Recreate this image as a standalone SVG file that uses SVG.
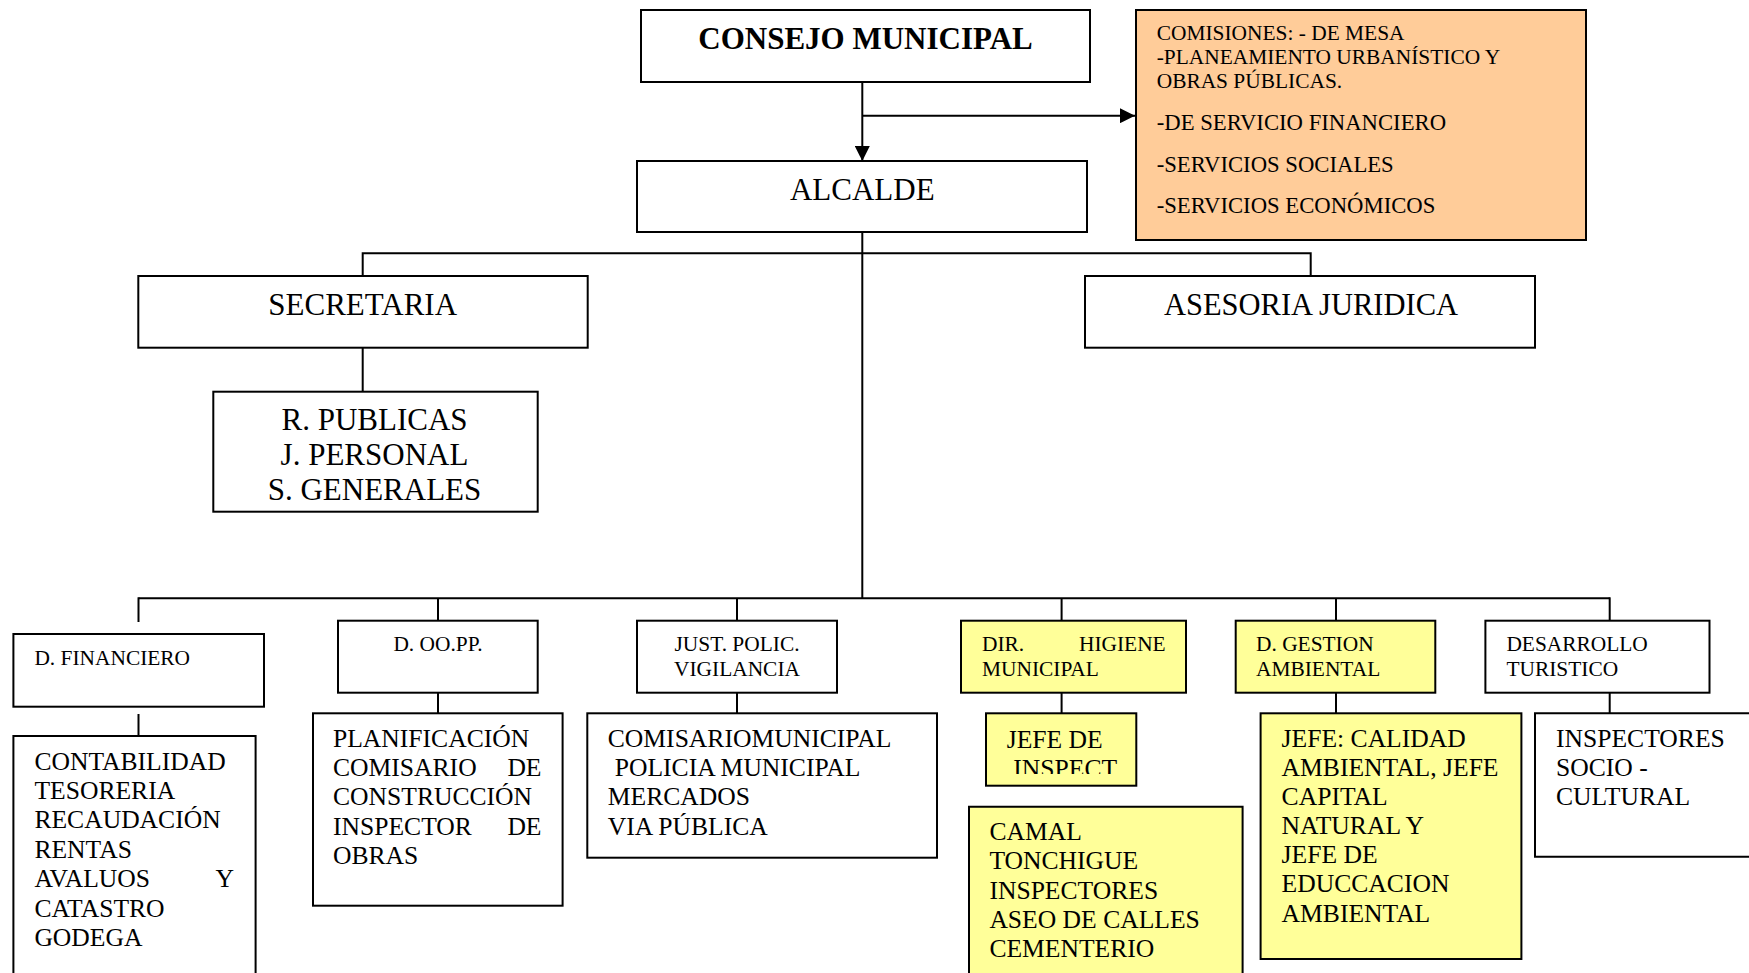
<svg xmlns="http://www.w3.org/2000/svg" width="1749" height="973" viewBox="0 0 1749 973">
<style>
  .box { fill: #FFFFFF; stroke: #000000; stroke-width: 2; }
  .yel { fill: #FFFF99; stroke: #000000; stroke-width: 2; }
  .peach { fill: #FFCC99; stroke: #000000; stroke-width: 2; }
  .ln { fill: none; stroke: #000000; stroke-width: 2; }
  text { font-family: "Liberation Serif", "Times New Roman", serif; fill: #000000; }
  .t30 { font-size: 31px; }
  .t25 { font-size: 25.6px; }
  .t21 { font-size: 21.4px; }
  .t22 { font-size: 22.7px; }
  .mid { text-anchor: middle; }
  .end { text-anchor: end; }
</style>
<defs>
  <marker id="arr" markerUnits="userSpaceOnUse" markerWidth="15" markerHeight="15" refX="15" refY="7.5" orient="auto">
    <path d="M0,0 L15,7.5 L0,15 Z" fill="#000000"/>
  </marker>
  <clipPath id="clipInspect">
    <rect x="986" y="713" width="150" height="61"/>
  </clipPath>
</defs>
<rect x="0" y="0" width="1749" height="973" fill="#FFFFFF"/>

<g id="connectors">
  <line class="ln" x1="862.3" y1="82" x2="862.3" y2="161" marker-end="url(#arr)"/>
  <line class="ln" x1="862.3" y1="115.7" x2="1135" y2="115.7" marker-end="url(#arr)"/>
  <line class="ln" x1="862.3" y1="232" x2="862.3" y2="598.3"/>
  <polyline class="ln" points="362.7,276 362.7,253.3 1310.7,253.3 1310.7,276"/>
  <line class="ln" x1="362.7" y1="347.7" x2="362.7" y2="391.7"/>
  <line class="ln" x1="138.5" y1="598.3" x2="1609.7" y2="598.3"/>
  <line class="ln" x1="138.5" y1="597.3" x2="138.5" y2="622"/>
  <line class="ln" x1="138.5" y1="714" x2="138.5" y2="736"/>
  <line class="ln" x1="438" y1="598.3" x2="438" y2="620.7"/>
  <line class="ln" x1="438" y1="692.7" x2="438" y2="713.3"/>
  <line class="ln" x1="737" y1="598.3" x2="737" y2="620.7"/>
  <line class="ln" x1="737" y1="692.7" x2="737" y2="713.3"/>
  <line class="ln" x1="1061.6" y1="598.3" x2="1061.6" y2="620.7"/>
  <line class="ln" x1="1061.6" y1="692.7" x2="1061.6" y2="713.3"/>
  <line class="ln" x1="1336" y1="598.3" x2="1336" y2="620.7"/>
  <line class="ln" x1="1336" y1="692.7" x2="1336" y2="713.3"/>
  <line class="ln" x1="1609.7" y1="597.3" x2="1609.7" y2="620.7"/>
  <line class="ln" x1="1609.7" y1="692.7" x2="1609.7" y2="713.3"/>
</g>

<g id="consejo">
  <rect class="box" x="641" y="10" width="449" height="72"/>
  <text class="t30 mid" x="865.5" y="48.5" font-weight="bold">CONSEJO MUNICIPAL</text>
</g>

<g id="comisiones">
  <rect class="peach" x="1136" y="10" width="450" height="230"/>
  <text class="t21" x="1156.7" y="40">COMISIONES: - DE MESA</text>
  <text class="t21" x="1156.7" y="63.5">-PLANEAMIENTO URBANÍSTICO Y</text>
  <text class="t21" x="1156.7" y="88">OBRAS PÚBLICAS.</text>
  <text class="t22" x="1156.7" y="130">-DE SERVICIO FINANCIERO</text>
  <text class="t22" x="1156.7" y="171.7">-SERVICIOS SOCIALES</text>
  <text class="t22" x="1156.7" y="213.3">-SERVICIOS ECONÓMICOS</text>
</g>

<g id="alcalde">
  <rect class="box" x="637" y="161" width="450" height="71"/>
  <text class="t30 mid" x="862.3" y="200">ALCALDE</text>
</g>

<g id="secretaria">
  <rect class="box" x="138.3" y="276" width="449.4" height="71.7"/>
  <text class="t30 mid" x="362.7" y="315">SECRETARIA</text>
</g>

<g id="asesoria">
  <rect class="box" x="1085" y="276" width="450" height="71.7"/>
  <text class="mid" x="1311" y="315" font-size="30.5px">ASESORIA JURIDICA</text>
</g>

<g id="rpublicas">
  <rect class="box" x="213.3" y="391.7" width="324.4" height="120"/>
  <text class="t30 mid" x="374.5" y="430">R. PUBLICAS</text>
  <text class="t30 mid" x="374.5" y="465">J. PERSONAL</text>
  <text class="t30 mid" x="374.5" y="500">S. GENERALES</text>
</g>

<g id="dfinanciero">
  <rect class="box" x="13.4" y="634" width="250.6" height="72.7"/>
  <text class="t21" x="34.4" y="665">D. FINANCIERO</text>
</g>

<g id="contabilidad">
  <path class="box" d="M13.4,980 L13.4,736 L255.6,736 L255.6,980"/>
  <text class="t25" x="34.4" y="770">CONTABILIDAD</text>
  <text class="t25" x="34.4" y="799">TESORERIA</text>
  <text class="t25" x="34.4" y="828">RECAUDACIÓN</text>
  <text class="t25" x="34.4" y="857.5">RENTAS</text>
  <text class="t25" x="34.4" y="887">AVALUOS</text>
  <text class="t25 end" x="234" y="887">Y</text>
  <text class="t25" x="34.4" y="916.5">CATASTRO</text>
  <text class="t25" x="34.4" y="945.5">GODEGA</text>
</g>

<g id="doopp">
  <rect class="box" x="338" y="620.7" width="199.7" height="72"/>
  <text class="t21 mid" x="438" y="651">D. OO.PP.</text>
</g>

<g id="planificacion">
  <rect class="box" x="313" y="713.3" width="249.6" height="192.4"/>
  <text class="t25" x="333" y="746.7">PLANIFICACIÓN</text>
  <text class="t25" x="333" y="776">COMISARIO</text>
  <text class="t25 end" x="541.5" y="776">DE</text>
  <text class="t25" x="333" y="805">CONSTRUCCIÓN</text>
  <text class="t25" x="333" y="834.5">INSPECTOR</text>
  <text class="t25 end" x="541.5" y="834.5">DE</text>
  <text class="t25" x="333" y="863.5">OBRAS</text>
</g>

<g id="justpolic">
  <rect class="box" x="637" y="620.7" width="200" height="72"/>
  <text class="t21 mid" x="737" y="651">JUST. POLIC.</text>
  <text class="t21 mid" x="737" y="675.7">VIGILANCIA</text>
</g>

<g id="comisario">
  <rect class="box" x="587.3" y="713.3" width="349.7" height="144.4"/>
  <text class="t25" x="607.8" y="746.7">COMISARIOMUNICIPAL</text>
  <text class="t25" x="614.7" y="776">POLICIA MUNICIPAL</text>
  <text class="t25" x="607.8" y="805">MERCADOS</text>
  <text class="t25" x="607.8" y="834.5">VIA PÚBLICA</text>
</g>

<g id="higiene">
  <rect class="yel" x="961" y="620.7" width="225" height="72"/>
  <text class="t21" x="982" y="651">DIR.</text>
  <text class="t21 end" x="1165.7" y="651">HIGIENE</text>
  <text class="t21" x="982" y="675.7">MUNICIPAL</text>
</g>

<g id="jefeinspect">
  <rect class="yel" x="986" y="713.3" width="150.3" height="72.4"/>
  <text class="t25" x="1006.7" y="747.5">JEFE DE</text>
  <text class="t25" x="1013.3" y="777" clip-path="url(#clipInspect)">INSPECT</text>
</g>

<g id="camal">
  <path class="yel" d="M969,980 L969,806.7 L1242.6,806.7 L1242.6,980"/>
  <text class="t25" x="989.4" y="840">CAMAL</text>
  <text class="t25" x="989.4" y="869.3">TONCHIGUE</text>
  <text class="t25" x="989.4" y="898.5">INSPECTORES</text>
  <text class="t25" x="989.4" y="927.7">ASEO DE CALLES</text>
  <text class="t25" x="989.4" y="956.7">CEMENTERIO</text>
</g>

<g id="gestion">
  <rect class="yel" x="1235.7" y="620.7" width="199.6" height="72"/>
  <text class="t21" x="1256" y="651">D. GESTION</text>
  <text class="t21" x="1256" y="675.7">AMBIENTAL</text>
</g>

<g id="jefecalidad">
  <rect class="yel" x="1260.6" y="713.3" width="260.8" height="245.7"/>
  <text class="t25" x="1281.6" y="746.7">JEFE: CALIDAD</text>
  <text class="t25" x="1281.6" y="776">AMBIENTAL, JEFE</text>
  <text class="t25" x="1281.6" y="805">CAPITAL</text>
  <text class="t25" x="1281.6" y="834.3">NATURAL Y</text>
  <text class="t25" x="1281.6" y="863.3">JEFE DE</text>
  <text class="t25" x="1281.6" y="892.3">EDUCCACION</text>
  <text class="t25" x="1281.6" y="921.7">AMBIENTAL</text>
</g>

<g id="desarrollo">
  <rect class="box" x="1485.4" y="620.7" width="224.1" height="72"/>
  <text class="t21" x="1506.4" y="651">DESARROLLO</text>
  <text class="t21" x="1506.4" y="675.7">TURISTICO</text>
</g>

<g id="inspectores">
  <path class="box" d="M1760,713.3 L1535,713.3 L1535,856.7 L1760,856.7"/>
  <text class="t25" x="1556" y="746.7">INSPECTORES</text>
  <text class="t25" x="1556" y="776">SOCIO -</text>
  <text class="t25" x="1556" y="805">CULTURAL</text>
</g>
</svg>
